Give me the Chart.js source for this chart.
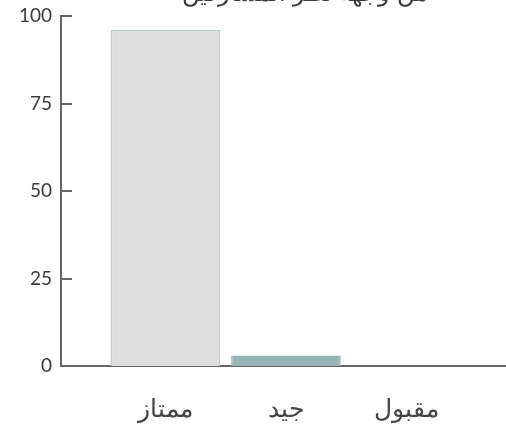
<!DOCTYPE html>
<html lang="ar">
<head>
<meta charset="utf-8">
<script src="https://cdn.jsdelivr.net/npm/chart.js@4"></script>
<style>
  html, body { margin: 0; padding: 0; background: #fff; }
  #wrap { width: 506px; height: 426px; position: relative; overflow: hidden; }
</style>
</head>
<body>
<div id="wrap"><canvas id="ratingChart" width="506" height="426"></canvas></div>
<script>
const chartTitle = "من وجهة نظر المشاركين";
const categories = ["ممتاز", "جيد", "مقبول"];
const percentValues = [96, 3, 0];
const yTickValues = [0, 25, 50, 75, 100];

const barFill = ["#dedede", "#97b5b6", "#dedede"];
const barEdge = ["#b9cdcd", "#97b5b6", "#5c5c5c"];

const axisColor = "#666666";
const textColor = "#3a3a3a";
const fontFamily = "Lato, 'DejaVu Sans', sans-serif";

// titulo cortado arriba, como en la imagen
const cutTitle = {
    id: "cutTitle",
    afterDraw(chart) {
        const ctx = chart.ctx;
        ctx.save();
        ctx.font = "300 24px " + fontFamily;
        ctx.fillStyle = textColor;
        ctx.textAlign = "center";
        ctx.textBaseline = "alphabetic";
        ctx.direction = "rtl";
        ctx.fillText(chartTitle, 305, 1);
        ctx.restore();
    }
};

// marcas del eje y hacia dentro
const innerTicks = {
    id: "innerTicks",
    afterDraw(chart) {
        const y = chart.scales.y;
        const ctx = chart.ctx;
        ctx.save();
        ctx.strokeStyle = axisColor;
        ctx.lineWidth = 2;
        y.ticks.forEach(t => {
            const py = Math.round(y.getPixelForValue(t.value));
            ctx.beginPath();
            ctx.moveTo(y.right, py);
            ctx.lineTo(y.right + 11, py);
            ctx.stroke();
        });
        ctx.restore();
    }
};

const ctx = document.getElementById("ratingChart").getContext("2d");

new Chart(ctx, {
    type: "bar",
    data: {
        datasets: [{
            data: percentValues.map((v, i) => ({ x: i, y: v })),
            backgroundColor: barFill,
            borderColor: barEdge,
            borderWidth: 1.5,
            barPercentage: 0.91,
            categoryPercentage: 1,
        }],
    },
    options: {
        responsive: false,
        maintainAspectRatio: false,
        animation: false,
        layout: { padding: { top: 16, right: 0, left: 0, bottom: 0 } },
        plugins: {
            legend: { display: false },
            tooltip: { enabled: false },
        },
        scales: {
            x: {
                type: "linear",
                offset: false,
                min: -0.867,
                max: 2.826,
                afterBuildTicks: s => { s.ticks = categories.map((_, i) => ({ value: i })); },
                afterFit: s => { s.height = 60; s.paddingLeft = 0; s.paddingRight = 0; },
                grid: { display: false, drawTicks: false },
                border: { color: axisColor, width: 2 },
                ticks: {
                    padding: 28,
                    color: "#444444",
                    font: { family: fontFamily, size: 25, weight: 300 },
                    callback: v => categories[v],
                },
            },
            y: {
                min: 0,
                max: 100,
                afterBuildTicks: s => { s.ticks = yTickValues.map(v => ({ value: v })); },
                afterFit: s => { s.width = 61; s.paddingTop = 0; s.paddingBottom = 0; },
                grid: { display: false, drawTicks: false },
                border: { color: axisColor, width: 2 },
                ticks: {
                    padding: 9,
                    color: textColor,
                    font: { family: fontFamily, size: 19, weight: 400 },
                },
            },
        },
    },
    plugins: [cutTitle, innerTicks],
});
</script>
</body>
</html>
